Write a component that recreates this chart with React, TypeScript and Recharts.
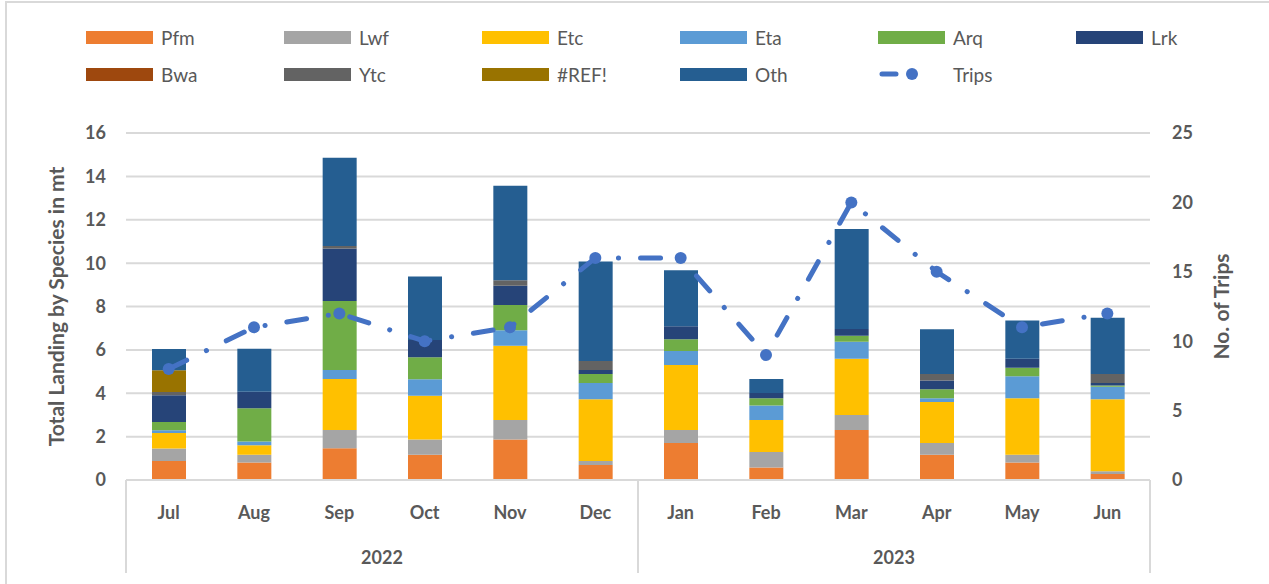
import { ComposedChart, Bar, Line, XAxis, YAxis, CartesianGrid } from 'recharts';

// monthly landings (mt) per species, Jul 2022 - Jun 2023
const MONTHS = ['Jul', 'Aug', 'Sep', 'Oct', 'Nov', 'Dec', 'Jan', 'Feb', 'Mar', 'Apr', 'May', 'Jun'];
const YEARS = ['2022', '2022', '2022', '2022', '2022', '2022', '2023', '2023', '2023', '2023', '2023', '2023'];

const PFM = [0.88, 0.81, 1.46, 1.17, 1.87, 0.69, 1.71, 0.58, 2.31, 1.17, 0.81, 0.28];
const LWF = [0.57, 0.36, 0.84, 0.7, 0.9, 0.19, 0.6, 0.71, 0.69, 0.54, 0.36, 0.12];
const ETC = [0.72, 0.43, 2.36, 2.02, 3.42, 2.84, 2.99, 1.48, 2.59, 1.89, 2.6, 3.32];
const ETA = [0.12, 0.17, 0.41, 0.75, 0.71, 0.75, 0.65, 0.66, 0.79, 0.17, 1.01, 0.58];
const ARQ = [0.39, 1.54, 3.18, 1.02, 1.17, 0.42, 0.54, 0.34, 0.27, 0.41, 0.4, 0.06];
const LRK = [1.23, 0.76, 2.43, 0.8, 0.89, 0.18, 0.6, 0.24, 0.31, 0.41, 0.41, 0.11];
const BWA = [0, 0, 0, 0, 0, 0, 0, 0, 0, 0, 0, 0];
const YTC = [0.15, 0, 0.11, 0, 0.25, 0.42, 0, 0, 0, 0.3, 0, 0.42];
const REF_ERR = [1.0, 0, 0, 0, 0, 0, 0, 0, 0, 0, 0, 0];
const OTH = [0.98, 1.98, 4.07, 2.92, 4.36, 4.59, 2.58, 0.65, 4.61, 2.06, 1.77, 2.59];
const TRIPS = [8, 11, 12, 10, 11, 16, 16, 9, 20, 15, 11, 12];

const LEFT_TICKS = [0, 2, 4, 6, 8, 10, 12, 14, 16];
const RIGHT_TICKS = [0, 5, 10, 15, 20, 25];

// note: keys must not be "ref"/"key", recharts spreads rows into element props
const species = [
  { key: 'pfm', name: 'Pfm', color: '#ED7D31', values: PFM },
  { key: 'lwf', name: 'Lwf', color: '#A5A5A5', values: LWF },
  { key: 'etc', name: 'Etc', color: '#FFC000', values: ETC },
  { key: 'eta', name: 'Eta', color: '#5B9BD5', values: ETA },
  { key: 'arq', name: 'Arq', color: '#70AD47', values: ARQ },
  { key: 'lrk', name: 'Lrk', color: '#264478', values: LRK },
  { key: 'bwa', name: 'Bwa', color: '#9E480E', values: BWA },
  { key: 'ytc', name: 'Ytc', color: '#636363', values: YTC },
  { key: 'refErr', name: '#REF!', color: '#997300', values: REF_ERR },
  { key: 'oth', name: 'Oth', color: '#255E91', values: OTH },
];

const data = MONTHS.map((m, i) => {
  const row: Record<string, string | number> = { month: m, year: YEARS[i], trips: TRIPS[i] };
  species.forEach((s) => (row[s.key] = s.values[i]));
  return row;
});

const FONT = 'Lato, sans-serif';
const TEXT = '#595959';
const GRID = '#d9d9d9';
const TRIP_COLOR = '#4472C4';
const DASH = '20 22 0.1 22';

const PLOT_LEFT = 126;
const PLOT_RIGHT = 1150;
const PLOT_BOTTOM = 480;
const YEAR_HALF = (PLOT_RIGHT - PLOT_LEFT) / 4;

function monthTick(props: any) {
  const { x, y, payload } = props;
  return (
    <text x={x} y={y + 37} textAnchor="middle" fill={TEXT} fontFamily={FONT} fontSize={18} fontWeight="bold">
      {payload.value}
    </text>
  );
}

function yearTick(props: any) {
  const { x, y, payload, index } = props;
  return (
    <g>
      <text x={x} y={y + 22} textAnchor="middle" fill={TEXT} fontFamily={FONT} fontSize={18} fontWeight="bold">
        {payload.value}
      </text>
      {index === 0 && <line x1={x - YEAR_HALF} x2={x - YEAR_HALF} y1={PLOT_BOTTOM} y2={573} stroke={GRID} strokeWidth={2} />}
      <line x1={x + YEAR_HALF} x2={x + YEAR_HALF} y1={PLOT_BOTTOM} y2={573} stroke={GRID} strokeWidth={2} />
    </g>
  );
}

function leftTick(props: any) {
  const { x, y, payload } = props;
  return (
    <text x={x} y={y} dy="0.355em" textAnchor="end" fill={TEXT} fontFamily={FONT} fontSize={18} fontWeight="bold">
      {payload.value}
    </text>
  );
}

function rightTick(props: any) {
  const { x, y, payload } = props;
  return (
    <text x={x} y={y} dy="0.355em" textAnchor="start" fill={TEXT} fontFamily={FONT} fontSize={18} fontWeight="bold">
      {payload.value}
    </text>
  );
}

const legendItems = [
  ...species.map((s) => ({ name: s.name, color: s.color, line: false })),
  { name: 'Trips', color: TRIP_COLOR, line: true },
];

function ChartLegend() {
  return (
    <>
      {legendItems.map((item, i) => {
        const col = i % 6;
        const row = Math.floor(i / 6);
        const left = 86 + col * 198;
        const top = 24 + row * 37;
        return (
          <div
            key={item.name}
            style={{ position: 'absolute', left, top, height: 26, display: 'flex', alignItems: 'center' }}
          >
            {item.line ? (
              <svg width={67} height={26}>
                <line x1={4} x2={40} y1={13} y2={13} stroke={item.color} strokeWidth={5} strokeLinecap="round" strokeDasharray="14 14 0.1 14" />
                <circle cx={34} cy={13} r={6} fill={item.color} />
              </svg>
            ) : (
              <div style={{ width: 67, height: 13, background: item.color }} />
            )}
            <span style={{ marginLeft: 8, fontFamily: FONT, fontSize: 19, color: TEXT }}>{item.name}</span>
          </div>
        );
      })}
    </>
  );
}

const titleStyle = { fill: TEXT, fontFamily: FONT, fontSize: 21, fontWeight: 'bold' };

export default function App() {
  return (
    <div style={{ position: 'relative', width: 1269, height: 584, overflow: 'hidden', background: '#fff' }}>
      <style>{'body{margin:0}'}</style>
      <div
        style={{
          position: 'absolute',
          left: 5,
          top: 1,
          width: 1300,
          height: 640,
          border: `2px solid ${GRID}`,
        }}
      />
      <ChartLegend />
      <div style={{ position: 'absolute', left: 0, top: 0 }}>
        <ComposedChart width={1269} height={584} data={data} margin={{ top: 133, right: 0, bottom: 0, left: 0 }}>
          <CartesianGrid vertical={false} stroke={GRID} strokeWidth={2} yAxisId="left" />
          <XAxis
            dataKey="month"
            height={60}
            tickLine={false}
            tickSize={0}
            axisLine={{ stroke: GRID, strokeWidth: 2 }}
            tick={monthTick}
            interval={0}
          />
          <XAxis
            xAxisId="year"
            dataKey="year"
            allowDuplicatedCategory={false}
            height={44}
            tickLine={false}
            tickSize={0}
            axisLine={false}
            tick={yearTick}
            interval={0}
          />
          <YAxis
            yAxisId="left"
            width={126}
            domain={[0, 16]}
            ticks={LEFT_TICKS}
            axisLine={false}
            tickLine={false}
            tickSize={0}
            tickMargin={20}
            tick={leftTick}
            label={{ value: 'Total Landing by Species in mt', angle: -90, position: 'center', dx: -6, style: titleStyle }}
          />
          <YAxis
            yAxisId="right"
            orientation="right"
            width={119}
            domain={[0, 25]}
            ticks={RIGHT_TICKS}
            axisLine={false}
            tickLine={false}
            tickSize={0}
            tickMargin={22}
            tick={rightTick}
            label={{ value: 'No. of Trips', angle: -90, position: 'center', dx: 12, style: titleStyle }}
          />
          {species.map((s) => (
            <Bar
              key={s.key}
              dataKey={s.key}
              name={s.name}
              stackId="landing"
              yAxisId="left"
              fill={s.color}
              barSize={34}
              isAnimationActive={false}
            />
          ))}
          <Line
            dataKey="trips"
            name="Trips"
            yAxisId="right"
            type="linear"
            stroke={TRIP_COLOR}
            strokeWidth={5}
            strokeLinecap="round"
            strokeDasharray={DASH}
            dot={{ r: 6, fill: TRIP_COLOR, stroke: 'none' }}
            activeDot={false}
            isAnimationActive={false}
          />
        </ComposedChart>
      </div>
    </div>
  );
}
